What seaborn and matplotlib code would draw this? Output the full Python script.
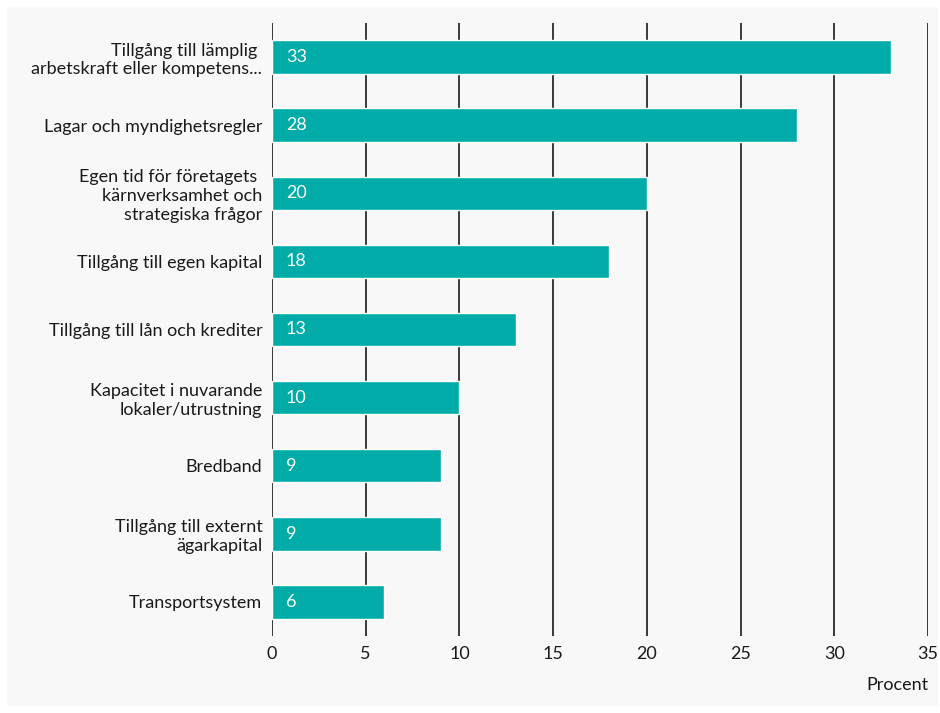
import matplotlib
matplotlib.use("Agg")
import matplotlib.pyplot as plt
from matplotlib.patches import Rectangle
import seaborn as sns
import pandas as pd

categories = [
    "Tillgång till lämplig \narbetskraft eller kompetens...",
    "Lagar och myndighetsregler",
    "Egen tid för företagets \nkärnverksamhet och\nstrategiska frågor",
    "Tillgång till egen kapital",
    "Tillgång till lån och krediter",
    "Kapacitet i nuvarande\nlokaler/utrustning",
    "Bredband",
    "Tillgång till externt\nägarkapital",
    "Transportsystem",
]
values = [33, 28, 20, 18, 13, 10, 9, 9, 6]
x_ticks = [0, 5, 10, 15, 20, 25, 30, 35]
x_label = "Procent"

sns.set_theme(style="white")
plt.rcParams["font.family"] = ["Lato", "DejaVu Sans"]

bg = "#f8f8f8"
bar_color = "#00aba8"
text_color = "#1a1a1a"
fs = 13

fig = plt.figure(figsize=(9.40, 7.13), dpi=100)
fig.patch.set_facecolor("white")
fig.add_artist(Rectangle((7 / 940, 7 / 713), 931 / 940, 699 / 713,
                         transform=fig.transFigure, facecolor=bg,
                         edgecolor="none", zorder=0))

ax = fig.add_axes([272 / 940, 1 - 636 / 713, 656 / 940, 613 / 713])
ax.set_facecolor(bg)
ax.patch.set_alpha(0)

df = pd.DataFrame({"kategori": categories, "procent": values})
sns.barplot(data=df, x="procent", y="kategori", orient="h",
            color=bar_color, saturation=1, width=0.49, ax=ax, zorder=3)

for i, v in enumerate(values):
    ax.annotate(str(v), xy=(0, i), xytext=(10, 0), textcoords="offset points",
                ha="left", va="center", color="white", fontsize=fs, zorder=4)

ax.set_xlim(0, 35)
ax.set_ylim(len(categories) - 0.5, -0.5)
ax.set_xticks(x_ticks)
for t in x_ticks:
    ax.axvline(t, color="#2b2b2b", lw=1.3, zorder=1)

for s in ax.spines.values():
    s.set_visible(False)

ax.tick_params(axis="both", length=0, labelsize=fs, colors=text_color)
ax.tick_params(axis="x", pad=7)
ax.tick_params(axis="y", pad=7)
ax.set_ylabel("")
ax.set_xlabel(x_label, fontsize=fs, color=text_color, loc="right", labelpad=11)
for lab in ax.get_yticklabels():
    lab.set_horizontalalignment("right")
    lab.set_multialignment("right")
    lab.set_linespacing(1.2)

fig.savefig("out.png", dpi=100, facecolor="white")
